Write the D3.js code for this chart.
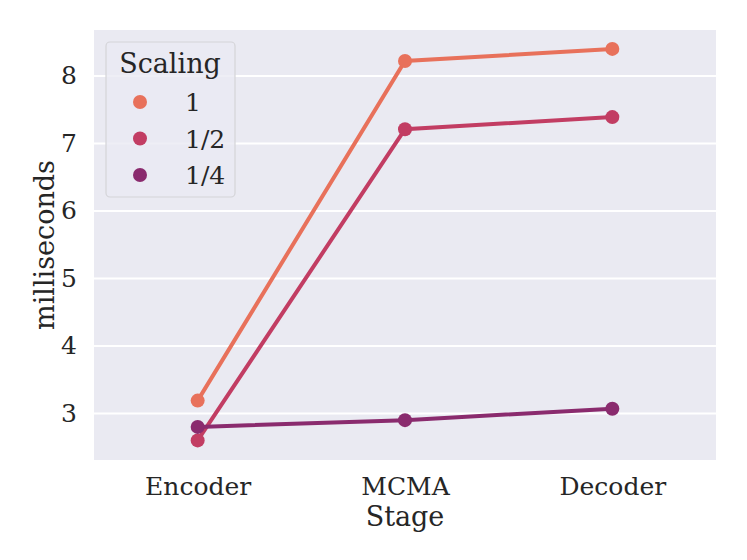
<!DOCTYPE html>
<html>
<head>
<meta charset="utf-8">
<title>Stage timing</title>
<script src="https://cdn.jsdelivr.net/npm/d3@7"></script>
<style>
body { margin: 0; background: #fff; }
svg text { font-family: "DejaVu Serif", serif; fill: #262626; }
</style>
</head>
<body>
<script type="text/javascript">

var stages = ["Encoder", "MCMA", "Decoder"];
var scalings = ["1", "1/2", "1/4"];
var colors = ["#e8715b", "#c23d63", "#8a2b6e"];

var timesFull = [3.19, 8.22, 8.40];
var timesHalf = [2.60, 7.21, 7.39];
var timesQuarter = [2.80, 2.90, 3.07];

var yTicks = [3, 4, 5, 6, 7, 8];

var series = [timesFull, timesHalf, timesQuarter];

var width = 747;
var height = 560;
var margin = {left: 94, right: 31, top: 30, bottom: 100};

var svg = d3.select("body")
            .append("svg")
            .attr("width", width)
            .attr("height", height);

var x = d3.scalePoint()
          .domain(stages)
          .range([margin.left, width - margin.right])
          .padding(0.5);

var y = d3.scaleLinear()
          .domain([2.31, 8.68])
          .range([height - margin.bottom, margin.top]);

// background
svg.append("rect")
   .attr("x", margin.left)
   .attr("y", margin.top)
   .attr("width", width - margin.left - margin.right)
   .attr("height", height - margin.top - margin.bottom)
   .attr("fill", "#eaeaf2");

// grid
svg.append("g")
   .selectAll("line")
   .data(yTicks)
   .enter()
   .append("line")
   .attr("x1", margin.left)
   .attr("x2", width - margin.right)
   .attr("y1", function(d){ return y(d); })
   .attr("y2", function(d){ return y(d); })
   .attr("stroke", "#fff")
   .attr("stroke-width", 2);

// axes
var yAxis = svg.append("g")
   .attr("transform", "translate(" + margin.left + ",0)")
   .call(d3.axisLeft(y).tickValues(yTicks).tickFormat(d3.format("d")).tickSize(0).tickPadding(17));
yAxis.select(".domain").remove();
yAxis.attr("font-size", 25).attr("font-family", "DejaVu Serif");

var xAxis = svg.append("g")
   .attr("transform", "translate(0," + (height - margin.bottom) + ")")
   .call(d3.axisBottom(x).tickSize(0).tickPadding(17));
xAxis.select(".domain").remove();
xAxis.attr("font-size", 25).attr("font-family", "DejaVu Serif");

svg.append("text")
   .attr("x", (margin.left + width - margin.right) / 2)
   .attr("y", 526)
   .attr("text-anchor", "middle")
   .attr("font-size", 27)
   .text("Stage");

svg.append("text")
   .attr("transform", "translate(54," + ((margin.top + height - margin.bottom) / 2) + ") rotate(-90)")
   .attr("text-anchor", "middle")
   .attr("font-size", 27)
   .text("milliseconds");

// lines and points
var line = d3.line()
             .x(function(d, i){ return x(stages[i]); })
             .y(function(d){ return y(d); });

series.forEach(function(vals, k){
  var g = svg.append("g");
  g.append("path")
   .attr("d", line(vals))
   .attr("fill", "none")
   .attr("stroke", colors[k])
   .attr("stroke-width", 4);
  g.selectAll("circle")
   .data(vals)
   .enter()
   .append("circle")
   .attr("cx", function(d, i){ return x(stages[i]); })
   .attr("cy", function(d){ return y(d); })
   .attr("r", 7)
   .attr("fill", colors[k]);
});

// legend
var legend = svg.append("g");
legend.append("rect")
      .attr("x", 106)
      .attr("y", 42)
      .attr("width", 129)
      .attr("height", 155)
      .attr("rx", 4)
      .attr("fill", "#eaeaf2")
      .attr("fill-opacity", 0.8)
      .attr("stroke", "#d4d4d8")
      .attr("stroke-width", 1.2);

legend.append("text")
      .attr("x", 170)
      .attr("y", 73)
      .attr("text-anchor", "middle")
      .attr("font-size", 27)
      .text("Scaling");

legend.selectAll(".item")
      .data(scalings)
      .enter()
      .append("g")
      .attr("transform", function(d, i){ return "translate(0," + (102 + i * 36.5) + ")"; })
      .each(function(d, i){
        var it = d3.select(this);
        it.append("circle")
          .attr("cx", 140)
          .attr("cy", 0)
          .attr("r", 7)
          .attr("fill", colors[i]);
        it.append("text")
          .attr("x", 185)
          .attr("y", 9)
          .attr("font-size", 25)
          .text(d);
      });

</script>
</body>
</html>
